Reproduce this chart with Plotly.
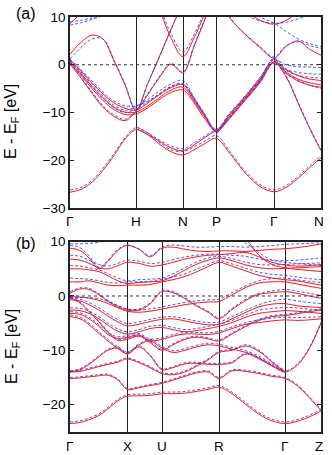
import plotly.graph_objects as go

# --- panel (a): k-path positions and labels
k_a = [0, 11, 22, 33, 44, 55, 66, 78, 90, 101, 113, 124, 135, 146, 160, 175, 190, 204, 216, 228, 240, 251]
ticks_a = [0, 66, 113, 146, 204, 251]
labels_a = ["Γ", "H", "N", "P", "Γ", "N"]

N = None
bands_a_red = [
    [-26.7, -26.1, -24.6, -22.1, -19.0, -15.6, -13.6, -14.7, -16.7, -18.2, -18.9, -17.8, -16.5, -15.4, -18.6, -22.6, -25.5, -26.6, -25.7, -23.8, -21.5, -19.5],
    [0.3, -2.2, -5.0, -7.5, -9.4, -10.4, -10.3, -9.0, -7.2, -5.8, -5.3, -8.0, -11.4, -13.8, -10.3, -6.8, -3.0, 0.5, -2.5, -8.0, -13.5, -18.0],
    [0.6, -1.8, -4.5, -6.9, -8.9, -9.9, -9.9, -8.6, -6.8, -5.3, -4.7, -7.6, -11.0, -13.8, -10.6, -7.0, -3.2, 0.6, -1.0, -2.3, -3.0, -3.3],
    [1.0, -1.3, -3.8, -6.1, -8.0, -9.1, -9.5, -8.0, -6.2, -4.8, -4.2, -7.2, -10.6, -14.0, -11.0, -7.3, -3.5, 0.6, -1.5, -3.0, -3.8, -4.2],
    [2.2, 4.7, 6.2, 5.4, 0.8, -4.2, -9.6, -3.8, 2.0, 7.4, 13.0, N, N, N, N, N, N, N, N, N, N, N],
    [0.15, -2.8, -6.0, -8.9, -10.8, -11.7, -9.8, -6.2, -2.5, 0.1, -1.7, 3.8, 9.5, 15.0, N, N, N, N, N, N, N, N],
    [N, N, N, N, N, N, N, N, 11.5, 5.6, 1.7, 5.6, 10.8, N, N, N, N, N, N, N, N, N],
    [8.6, 10.8, N, N, N, N, N, N, N, N, N, N, N, N, N, N, N, N, N, N, N, N],
    [N, N, N, N, N, N, N, N, N, N, N, N, N, 16.0, 9.8, 6.4, 3.6, 1.4, 3.8, 5.0, 3.2, 2.0],
    [N, N, N, N, N, N, N, N, N, N, N, N, N, N, 14.0, 11.5, 9.3, 8.5, 9.3, 11.0, N, N],
    [N, N, N, N, N, N, N, N, N, N, N, N, N, -14.6, -11.2, -7.5, -3.8, 0.4, -1.8, -3.4, -4.3, -4.7],
    [N, N, N, N, N, N, -13.4, -14.6, -16.1, -17.4, -18.0, -16.8, -15.2, -13.8, N, N, N, N, N, N, N, N],
]
bands_a_blue = [
    [-26.2, -25.7, -24.2, -21.7, -18.6, -15.3, -13.2, -14.3, -16.3, -17.8, -18.2, -17.2, -16.0, -14.8, -18.2, -22.2, -25.1, -26.2, -25.3, -23.4, -21.1, -19.0],
    [0.5, -1.9, -4.6, -7.1, -9.0, -10.0, -9.2, -7.8, -6.0, -4.5, -3.9, -7.2, -10.8, -13.5, -10.0, -6.5, -2.6, 1.0, 0.0, -0.4, -0.5, -0.6],
    [0.8, -1.5, -4.1, -6.5, -8.5, -9.5, -8.8, -7.2, -5.4, -4.0, -3.3, -6.8, -10.4, -13.6, -10.3, -6.7, -2.8, 1.2, -1.8, -3.2, -4.3, -5.0],
    [1.2, -1.0, -3.4, -5.7, -7.6, -8.6, -8.6, -7.6, -6.0, -4.6, -4.0, -7.0, -10.6, -14.0, -10.8, -7.1, -3.3, 1.4, -0.9, -1.6, -1.9, -2.0],
    [1.2, 3.6, 5.4, 5.4, 1.0, -4.0, -9.4, -3.8, 2.0, 7.4, 13.0, N, N, N, N, N, N, N, N, N, N, N],
    [0.4, -2.5, -5.7, -8.6, -10.5, -11.4, -9.6, -6.0, -2.3, 0.3, -1.5, 4.0, 9.7, 15.2, N, N, N, N, N, N, N, N],
    [N, N, N, N, N, N, N, N, 12.0, 6.5, 2.7, 6.3, 11.5, N, N, N, N, N, N, N, N, N],
    [8.3, 8.8, 9.5, 10.3, N, N, N, N, N, N, N, N, N, N, N, N, N, N, N, N, N, N],
    [9.0, 9.3, 9.8, 10.5, N, N, N, N, N, N, N, N, N, N, N, N, N, N, N, N, N, N],
    [N, N, N, N, N, N, N, N, N, N, N, N, N, 16.0, 9.9, 6.5, 3.8, 1.6, 4.0, 4.8, 4.0, 3.4],
    [N, N, N, N, N, N, N, N, N, N, N, N, N, N, 12.5, 10.5, 9.2, 8.7, 8.9, 9.6, 10.5, N],
    [N, N, N, N, N, N, N, N, N, N, N, N, N, N, N, 12.0, 10.0, 8.7, 7.0, 5.4, 4.4, 3.8],
    [N, N, N, N, N, N, -13.0, -14.3, -15.8, -17.0, -17.6, -16.4, -14.9, -13.6, N, N, N, N, N, N, N, N],
    [N, N, N, N, N, N, N, N, N, N, N, N, N, -14.2, -10.8, -7.2, -3.4, 1.0, -1.2, -2.2, -2.6, -2.8],
    [N, N, N, N, N, N, N, N, N, N, N, N, N, N, N, N, N, 1.0, -2.3, -7.8, -13.3, -17.8],
]

# --- panel (b)
k_b = [0, 10, 19, 29, 38, 48, 57, 69, 80, 92, 103, 115, 126, 138, 149, 162, 176, 189, 202, 215, 227, 239, 251]
ticks_b = [0, 57, 92, 149, 215, 251]
labels_b = ["Γ", "X", "U", "R", "Γ", "Z"]

bands_b_red = [
    [-23.5, -23.3, -22.8, -22.0, -20.8, -19.3, -18.5, -18.4, -18.3, -18.0, -18.0, -17.9, -17.6, -17.2, -16.8, -18.0, -20.0, -21.8, -23.0, -23.5, -23.1, -22.3, -21.2],
    [-15.2, -15.1, -14.9, -14.7, -14.6, -15.5, -17.2, -16.9, -16.5, -16.1, -15.5, -14.8, -14.2, -14.0, -15.2, -13.8, -13.9, -14.3, -14.8, -15.2, -16.5, -18.7, -21.1],
    [-14.0, -13.6, -12.6, -11.2, -10.0, -9.6, -10.7, -9.4, -11.0, -13.6, -13.2, -12.5, -12.4, -12.6, -12.6, -12.3, -10.7, -11.6, -12.9, -14.0, -12.8, -9.8, -5.0],
    [-14.0, -13.9, -13.5, -13.0, -12.6, -12.2, -11.6, -12.3, -13.2, -14.3, -14.5, -14.0, -13.0, -11.8, -10.4, -10.0, -9.2, -10.2, -12.2, -14.0, N, N, N],
    [-3.8, -4.2, -5.3, -6.9, -8.3, -9.7, -10.6, -9.0, -8.3, -9.6, -10.4, -10.0, -9.4, -9.0, -9.2, -9.8, -10.4, -11.4, -12.8, -14.0, N, N, N],
    [-0.3, -1.3, -2.9, -4.8, -6.7, -8.2, -8.0, -7.4, -8.6, -10.0, -9.0, -8.0, -7.6, -7.9, -8.3, -7.0, -5.6, -4.5, -3.8, -3.6, -3.3, -2.9, -2.6],
    [-3.2, -3.4, -4.2, -5.6, -7.1, -7.8, -7.6, -7.2, -8.2, -8.0, -7.4, -7.0, -7.0, -7.1, -6.8, -6.0, -5.2, -4.9, -4.6, -4.4, -4.5, -4.4, -4.2],
    [-2.6, -2.7, -3.2, -4.2, -5.4, -6.5, -7.0, -6.6, -6.0, -5.8, -6.2, -6.6, -6.4, -6.0, -5.6, -4.9, -3.9, -3.2, -2.9, -2.7, -2.8, -3.0, -3.2],
    [-0.7, -0.9, -1.6, -2.6, -3.7, -4.8, -5.5, -5.2, -4.7, -4.3, -4.2, -4.6, -5.0, -5.3, -5.2, -4.2, -3.0, -2.0, -1.5, -1.4, -1.8, -2.0, -2.1],
    [0.5, 1.3, 1.2, 0.2, -1.0, -2.0, -2.6, -2.6, -1.5, 0.8, 0.6, -0.5, -1.8, -3.0, -4.2, -2.5, -0.8, 0.3, 0.6, 0.8, 0.5, 0.0, -0.4],
    [-0.1, -0.2, -0.4, -0.8, -1.4, -2.2, -2.8, -3.0, -2.8, -2.4, -2.0, -1.6, -1.3, -1.1, -1.0, 0.2, 1.6, 2.4, 2.6, 2.6, 2.2, 1.8, 1.4],
    [2.6, 2.6, 2.8, 2.4, 2.0, 1.9, 2.0, 2.0, 2.1, 2.6, 3.0, 3.6, 4.4, 5.4, 6.2, 5.5, 4.6, 3.8, 3.3, 3.0, 2.8, 2.4, 2.0],
    [5.0, 5.0, 4.8, 4.5, 3.7, 2.8, 2.3, 2.5, 2.6, 2.8, 3.6, 4.8, 5.8, 6.6, 7.0, 6.5, 5.7, 5.2, 5.0, 5.1, 5.2, 5.3, 5.4],
    [6.8, 6.6, 6.0, 5.2, 5.0, 5.6, 6.2, 6.0, 5.5, 5.7, 6.2, 6.8, 7.2, 7.5, 7.6, 7.8, 8.0, 7.2, 6.2, 5.7, 5.5, 5.6, 5.8],
    [8.8, 8.4, 7.0, 5.0, 6.4, 8.4, 9.3, 8.6, 7.2, 8.8, 9.0, 8.6, 8.3, 8.2, 8.3, 8.3, 8.2, 8.4, 8.6, 8.7, 8.9, 9.2, 9.6],
    [N, N, N, N, N, N, N, N, N, N, N, N, N, N, N, 12.0, 10.4, 7.5, 5.8, 5.2, 4.9, 4.7, 4.5],
]
bands_b_blue = [
    [-23.2, -23.0, -22.5, -21.7, -20.5, -19.0, -18.2, -18.1, -18.0, -17.7, -17.7, -17.6, -17.3, -16.9, -16.5, -17.7, -19.7, -21.5, -22.7, -23.2, -22.8, -22.0, -20.9],
    [-15.0, -14.9, -14.7, -14.5, -14.4, -15.3, -17.0, -16.7, -16.3, -15.9, -15.3, -14.6, -14.0, -13.8, -15.0, -13.6, -13.7, -14.1, -14.6, -15.0, -16.3, -18.5, -20.9],
    [-13.8, -13.4, -12.4, -11.0, -9.8, -9.4, -10.5, -9.2, -10.8, -13.4, -13.0, -12.3, -12.2, -12.4, -12.4, -12.1, -10.5, -11.4, -12.7, -13.8, -12.6, -9.6, -4.8],
    [-13.8, -13.7, -13.3, -12.8, -12.4, -12.0, -11.4, -12.1, -13.0, -14.1, -14.3, -13.8, -12.8, -11.6, -10.2, -9.8, -9.0, -10.0, -12.0, -13.8, N, N, N],
    [-3.5, -3.9, -5.0, -6.6, -8.0, -9.4, -10.3, -8.8, -8.0, -9.3, -10.1, -9.7, -9.1, -8.7, -8.9, -9.5, -10.1, -11.1, -12.5, -13.8, N, N, N],
    [-0.1, -1.1, -2.7, -4.6, -6.5, -8.0, -7.8, -7.2, -8.4, -9.8, -8.8, -7.8, -7.4, -7.7, -8.1, -6.8, -5.4, -4.3, -3.6, -3.4, -3.1, -2.7, -2.4],
    [-2.9, -3.1, -3.9, -5.3, -6.8, -7.5, -7.3, -6.9, -7.9, -7.7, -7.1, -6.7, -6.7, -6.8, -6.5, -5.7, -4.9, -4.4, -4.1, -3.9, -4.0, -3.9, -3.8],
    [-2.2, -2.3, -2.8, -3.8, -5.0, -6.1, -6.6, -6.2, -5.6, -5.4, -5.8, -6.2, -6.0, -5.6, -5.2, -4.5, -3.5, -2.6, -2.3, -2.1, -2.2, -2.4, -2.6],
    [-0.4, -0.6, -1.2, -2.2, -3.3, -4.4, -5.1, -4.8, -4.3, -3.9, -3.8, -4.2, -4.6, -4.9, -4.8, -3.8, -2.6, -1.6, -0.9, -0.6, -0.9, -1.2, -1.4],
    [0.8, 1.5, 1.4, 0.4, -0.8, -1.8, -2.4, -2.4, -1.3, 1.0, 0.8, -0.3, -1.6, -2.8, -4.0, -2.3, -0.6, 0.5, 0.9, 1.2, 0.9, 0.5, 0.1],
    [-0.3, -0.3, -0.3, -0.5, -1.0, -1.8, -2.4, -2.6, -2.4, -2.0, -1.6, -1.2, -0.9, -0.7, -0.6, 0.6, 1.9, 2.8, 3.2, 3.3, 3.0, 2.7, 2.5],
    [3.3, 3.2, 3.1, 2.8, 2.5, 2.4, 2.6, 2.6, 2.7, 3.1, 3.5, 4.1, 4.9, 5.8, 6.5, 5.9, 5.1, 4.4, 4.0, 3.8, 3.5, 3.2, 3.0],
    [5.6, 5.5, 5.2, 4.8, 4.1, 3.3, 2.8, 3.0, 3.1, 3.3, 4.1, 5.2, 6.2, 7.0, 7.3, 6.9, 6.2, 5.8, 5.7, 5.8, 5.9, 6.0, 6.1],
    [7.5, 7.3, 6.6, 5.8, 5.5, 6.0, 6.6, 6.4, 6.0, 6.2, 6.7, 7.2, 7.5, 7.7, 7.7, 7.5, 7.3, 6.8, 6.6, 6.5, 6.6, 6.8, 7.0],
    [9.3, 8.9, 7.4, 5.3, 6.6, 8.6, 9.4, 8.7, 7.4, 9.0, 9.4, 9.2, 9.0, 9.0, 9.1, 9.1, 9.0, 9.1, 9.3, 9.5, 9.6, 9.7, 9.8],
    [9.6, 9.6, 9.7, 9.9, 10.5, N, N, N, N, N, N, N, N, N, N, N, N, N, N, N, N, N, N],
    [N, N, N, N, N, N, N, N, N, N, N, N, N, N, N, 11.5, 9.7, 8.0, 6.6, 6.2, 6.0, 5.8, 5.6],
]

FONT = "Liberation Sans, Arial, sans-serif"

fig = go.Figure()


def add_bands(k, bands, color, dash, xa, ya):
    for e in bands:
        fig.add_trace(go.Scatter(
            x=k, y=e, mode="lines", xaxis=xa, yaxis=ya,
            line=dict(color=color, width=1, dash=dash, shape="spline", smoothing=1.0),
            hoverinfo="skip", showlegend=False,
        ))


add_bands(k_a, bands_a_red, "#ff1a1a", "solid", "x", "y")
add_bands(k_a, bands_a_blue, "rgba(40,60,255,0.85)", "3px,2px", "x", "y")
add_bands(k_b, bands_b_red, "#ff1a1a", "solid", "x2", "y2")
add_bands(k_b, bands_b_blue, "rgba(40,60,255,0.85)", "3px,2px", "x2", "y2")

W, H = 332, 455
x0, x1 = 70, 321
xdom = [x0 / W, x1 / W]
ydom_a = [1 - 208 / H, 1 - 17 / H]
ydom_b = [1 - 431.7 / H, 1 - 241.7 / H]

xcommon = dict(showline=True, linecolor="#222", linewidth=1.5, mirror=True,
               showgrid=True, gridcolor="#222", gridwidth=1, zeroline=False,
               ticks="", showticklabels=False, automargin=False)
ycommon = dict(showline=True, linecolor="#222", linewidth=1.5, mirror="allticks",
               showgrid=False, zeroline=False, ticks="inside", ticklen=4,
               tickcolor="#222", automargin=False,
               tickfont=dict(family=FONT, size=13.5, color="black"))

ann_font = dict(family=FONT, size=16, color="black")
lab_font = dict(family=FONT, size=13.5, color="black")

# k-point labels under each panel, placed on the same data scale as the bands
annotations = []
for xa, ticks, labels, ypix in (("x", ticks_a, labels_a, 221), ("x2", ticks_b, labels_b, 446)):
    for t, lab in zip(ticks, labels):
        annotations.append(dict(text=lab, x=min(t, 249), xref=xa, y=1 - ypix / H, yref="paper",
                                showarrow=False, xanchor="center", yanchor="middle", font=lab_font))

annotations += [
    dict(text="(a)", x=26 / W, y=1 - 13 / H, xref="paper", yref="paper", showarrow=False,
         xanchor="center", yanchor="middle", font=ann_font),
    dict(text="(b)", x=26 / W, y=1 - 243 / H, xref="paper", yref="paper", showarrow=False,
         xanchor="center", yanchor="middle", font=ann_font),
    dict(text="E - E<sub>F</sub> [eV]", x=12 / W, y=1 - 122 / H, xref="paper", yref="paper",
         showarrow=False, textangle=-90, xanchor="center", yanchor="middle", font=ann_font),
    dict(text="E - E<sub>F</sub> [eV]", x=12 / W, y=1 - 347 / H, xref="paper", yref="paper",
         showarrow=False, textangle=-90, xanchor="center", yanchor="middle", font=ann_font),
]

fig.update_layout(
    width=W, height=H,
    margin=dict(l=0, r=0, t=0, b=0),
    paper_bgcolor="white", plot_bgcolor="white",
    xaxis=dict(domain=xdom, range=[0, 251], tickvals=ticks_a, anchor="y", **xcommon),
    yaxis=dict(domain=ydom_a, range=[-30, 10], tickvals=[-30, -20, -10, 0, 10], anchor="x", **ycommon),
    xaxis2=dict(domain=xdom, range=[0, 251], tickvals=ticks_b, anchor="y2", **xcommon),
    yaxis2=dict(domain=ydom_b, range=[-25, 10], tickvals=[-20, -10, 0, 10], anchor="x2", **ycommon),
    shapes=[
        dict(type="line", xref="x domain", yref="y", x0=0, x1=1, y0=0, y1=0,
             line=dict(color="#333", width=1, dash="dot")),
        dict(type="line", xref="x2 domain", yref="y2", x0=0, x1=1, y0=0, y1=0,
             line=dict(color="#333", width=1, dash="dot")),
    ],
    annotations=annotations,
)

# the page's default 8px body margin would push the figure off the window
fig.write_html("out.html", config={"displayModeBar": False},
               post_script="document.body.style.margin='0px';document.body.style.overflow='hidden';")
